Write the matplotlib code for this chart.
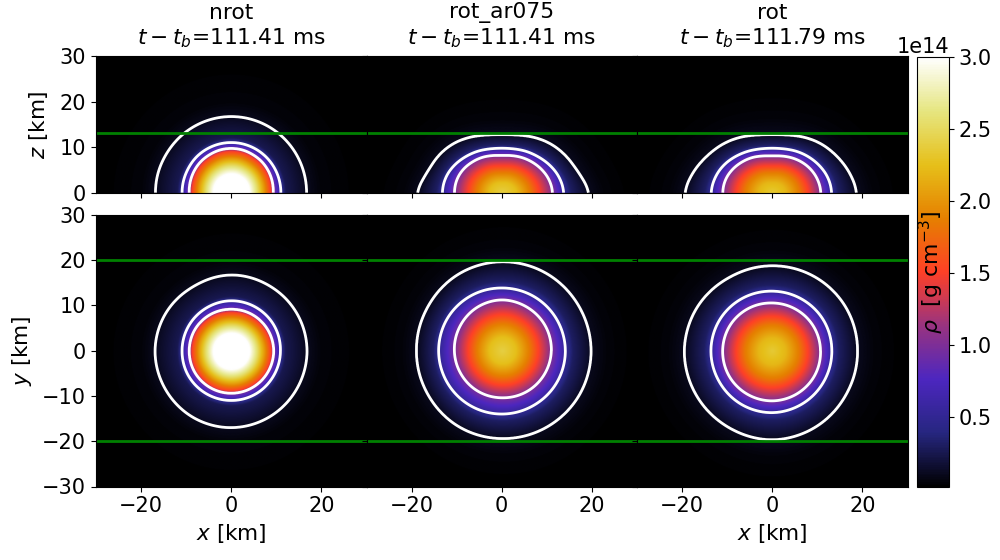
import numpy as np
import matplotlib
matplotlib.use("Agg")
import matplotlib.pyplot as plt

# ---- values (radii in km, density in g/cm^3) ----
models = ["nrot", "rot_ar075", "rot"]
times = ["111.41", "111.41", "111.79"]
levels = [1e13, 5e13, 1e14]
green_z = 13
green_y = [-20, 20]

# radial density profiles along a reference direction
profile_r = {
    "nrot":      [0, 4, 5.5, 7.3, 8.7, 9.3, 10.9, 12, 16.8, 20, 30, 60],
    "rot_ar075": [0, 3, 6, 8, 11.0, 14.0, 15.5, 19.5, 23, 30, 60],
    "rot":       [0, 3, 6, 8, 10.9, 13.5, 15, 19.2, 23, 30, 60],
}
profile_rho = {
    "nrot":      [3.7e14, 3.0e14, 2.6e14, 2.0e14, 1.5e14, 1e14, 5e13, 2.5e13, 1e13, 4e12, 1e12, 1e12],
    "rot_ar075": [2.4e14, 2.25e14, 1.85e14, 1.5e14, 1e14, 5e13, 3e13, 1e13, 4e12, 1e12, 1e12],
    "rot":       [2.35e14, 2.2e14, 1.85e14, 1.5e14, 1e14, 5e13, 3e13, 1e13, 4e12, 1e12, 1e12],
}

# contour radii in the x-z plane, polar angle from +x, degrees
xz_angle = [0, 15, 30, 45, 60, 75, 90, 105, 120, 135, 150, 165, 180]
xz_outer = {
    "nrot":      [16.7, 16.7, 16.7, 16.7, 16.7, 16.7, 16.7, 16.7, 16.7, 16.7, 16.7, 16.8, 16.8],
    "rot_ar075": [19.5, 17.4, 16.3, 15.2, 14.0, 13.0, 12.6, 13.0, 14.0, 15.2, 16.2, 17.0, 18.9],
    "rot":       [18.8, 17.6, 16.3, 15.2, 14.0, 13.0, 12.6, 13.0, 14.0, 15.2, 16.4, 18.0, 19.5],
}
xz_mid = {
    "nrot":      [11.0, 11.0, 11.0, 11.0, 11.0, 11.0, 11.0, 11.0, 11.0, 11.0, 10.9, 10.9, 10.9],
    "rot_ar075": [13.8, 13.2, 12.2, 11.2, 10.5, 9.9, 9.7, 9.9, 10.5, 11.2, 12.1, 12.9, 13.2],
    "rot":       [13.2, 12.8, 12.0, 11.2, 10.5, 9.9, 9.7, 9.9, 10.5, 11.3, 12.3, 13.1, 13.6],
}
xz_inner = {
    "nrot":      [9.3, 9.4, 9.5, 9.6, 9.6, 9.7, 9.7, 9.7, 9.6, 9.6, 9.5, 9.4, 9.3],
    "rot_ar075": [11.3, 10.9, 10.2, 9.5, 8.9, 8.4, 8.1, 8.4, 8.9, 9.4, 10.0, 10.4, 10.5],
    "rot":       [10.8, 10.5, 10.0, 9.4, 8.8, 8.3, 8.0, 8.3, 8.9, 9.5, 10.2, 10.8, 11.0],
}

# contour radii in the x-y plane
xy_angle = [0, 30, 60, 90, 120, 150, 180, 210, 240, 270, 300, 330, 360]
xy_outer = {
    "nrot":      [16.8, 16.7, 16.6, 16.7, 16.4, 16.7, 16.9, 16.9, 17.0, 17.0, 16.9, 16.8, 16.8],
    "rot_ar075": [19.8, 19.7, 19.7, 19.6, 19.4, 19.0, 18.9, 19.0, 19.3, 19.4, 19.6, 19.8, 19.8],
    "rot":       [18.9, 18.9, 18.8, 18.7, 18.7, 19.2, 19.5, 19.5, 19.5, 19.7, 19.4, 19.0, 18.9],
}
xy_mid = {
    "nrot":      [10.9, 11.0, 11.0, 11.0, 10.9, 10.9, 10.9, 11.0, 11.0, 11.0, 11.0, 10.9, 10.9],
    "rot_ar075": [14.1, 14.0, 13.9, 13.8, 13.9, 14.0, 14.0, 14.0, 14.0, 14.0, 14.0, 14.1, 14.1],
    "rot":       [13.2, 13.2, 13.1, 13.1, 13.3, 13.5, 13.6, 13.6, 13.7, 13.7, 13.5, 13.3, 13.2],
}
xy_inner = {
    "nrot":      [9.4, 9.3, 9.2, 9.1, 9.2, 9.3, 9.3, 9.4, 9.4, 9.4, 9.4, 9.4, 9.4],
    "rot_ar075": [11.0, 11.1, 11.1, 11.2, 11.0, 10.7, 10.5, 10.4, 10.4, 10.4, 10.6, 10.8, 11.0],
    "rot":       [10.7, 10.6, 10.5, 10.5, 10.7, 10.9, 11.0, 11.1, 11.1, 11.1, 11.0, 10.9, 10.7],
}

plt.rcParams.update({"font.size": 15, "font.family": "DejaVu Sans"})


def smooth_radius(th, ang, vals):
    """Radius at angles th from a read table, rounded off so chords leave no kinks."""
    fine = np.arange(ang[0], ang[-1] + 1.0)
    rf = np.interp(fine, ang, vals)
    pad = 8
    padded = np.concatenate([np.full(pad, rf[0]), rf, np.full(pad, rf[-1])])
    kernel = np.ones(2 * pad + 1) / (2 * pad + 1)
    sm = np.convolve(padded, kernel, mode="same")[pad:-pad]
    return np.interp(th, fine, sm)


def field(model, xv, yv, ang, outer, mid, inner):
    """Density on a grid, built from the read radial profile and contour radii."""
    X, Y = np.meshgrid(xv, yv)
    r = np.hypot(X, Y)
    th = np.degrees(np.arctan2(Y, X)) % 360.0
    if max(ang) <= 180:
        th = np.where(th > 180, 360 - th, th)
    Ri = smooth_radius(th, ang, inner[model])
    Rm = smooth_radius(th, ang, mid[model])
    Ro = smooth_radius(th, ang, outer[model])
    pr = profile_r[model]
    prho = profile_rho[model]
    Ri0 = pr[prho.index(levels[2])]
    Rm0 = pr[prho.index(levels[1])]
    Ro0 = pr[prho.index(levels[0])]
    s = np.where(r <= Ri, r * Ri0 / Ri,
        np.where(r <= Rm, Ri0 + (r - Ri) * (Rm0 - Ri0) / (Rm - Ri),
        np.where(r <= Ro, Rm0 + (r - Rm) * (Ro0 - Rm0) / (Ro - Rm),
                 Ro0 + (r - Ro))))
    return np.interp(s, pr, prho)


W, H = 1000.0, 560.0
lefts = [96.0, 366.5, 637.0]
pw = 270.5
top_box = (56.0, 192.7)
bot_box = (214.7, 486.5)
norm = matplotlib.colors.Normalize(vmin=1e12, vmax=3e14)
cmap = "CMRmap"

fig = plt.figure(figsize=(10, 5.6), dpi=100)
xv = np.linspace(-30, 30, 721)
zv = np.linspace(0, 30, 361)
for i, m in enumerate(models):
    l = lefts[i]
    ax_t = fig.add_axes([l / W, 1 - top_box[1] / H, pw / W, (top_box[1] - top_box[0]) / H])
    ax_b = fig.add_axes([l / W, 1 - bot_box[1] / H, pw / W, (bot_box[1] - bot_box[0]) / H])

    F = field(m, xv, zv, xz_angle, xz_outer, xz_mid, xz_inner)
    im = ax_t.imshow(F, origin="lower", extent=[-30, 30, 0, 30], cmap=cmap, norm=norm,
                     aspect="auto", interpolation="bilinear")
    ax_t.contour(xv, zv, F, levels=levels, colors="white", linewidths=2)
    ax_t.axhline(green_z, color="green", lw=2)
    ax_t.set_xlim(-30, 30)
    ax_t.set_ylim(0, 30)
    ax_t.set_yticks([0, 10, 20, 30])
    ax_t.set_xticks([-20, 0, 20])
    ax_t.tick_params(labelbottom=False, labelleft=(i == 0))
    ax_t.set_title(f"{m}\n$t-t_b$={times[i]} ms", fontsize=15.7, pad=8)

    G = field(m, xv, xv, xy_angle, xy_outer, xy_mid, xy_inner)
    ax_b.imshow(G, origin="lower", extent=[-30, 30, -30, 30], cmap=cmap, norm=norm,
                aspect="auto", interpolation="bilinear")
    ax_b.contour(xv, xv, G, levels=levels, colors="white", linewidths=2)
    for g in green_y:
        ax_b.axhline(g, color="green", lw=2)
    ax_b.set_xlim(-30, 30)
    ax_b.set_ylim(-30, 30)
    ax_b.set_yticks([-30, -20, -10, 0, 10, 20, 30])
    ax_b.set_xticks([-20, 0, 20])
    ax_b.tick_params(labelleft=(i == 0))
    if i != 1:
        ax_b.set_xlabel("$x$ [km]", fontsize=15.5)
    if i == 0:
        ax_t.set_ylabel("$z$ [km]", fontsize=15.5, labelpad=7)
        ax_b.set_ylabel("$y$ [km]", fontsize=15.5, labelpad=6)

cax = fig.add_axes([917 / W, 1 - 487 / H, 32 / W, (487 - 57) / H])
cb = fig.colorbar(im, cax=cax)
cb.set_ticks([0.5e14, 1e14, 1.5e14, 2e14, 2.5e14, 3e14])
cb.ax.yaxis.get_offset_text().set_fontsize(15)
cb.set_label(r"$\rho$  [g cm$^{-3}$]", fontsize=15.8, labelpad=-54)

fig.savefig("out.png", dpi=100)
